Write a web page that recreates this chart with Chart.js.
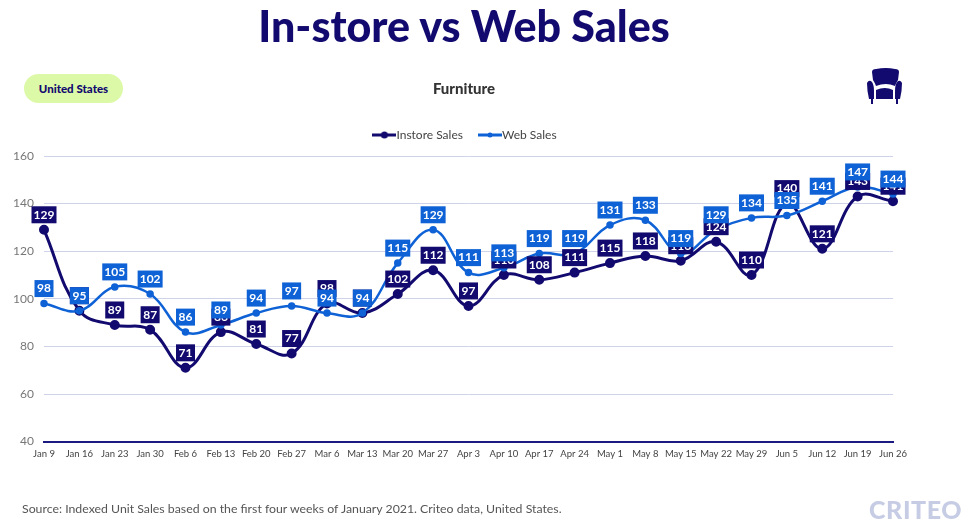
<!DOCTYPE html>
<html>
<head>
<meta charset="utf-8">
<script src="https://cdn.jsdelivr.net/npm/chart.js@4"></script>
<style>
    html, body { margin: 0; padding: 0; background: #fff; }
    body { width: 975px; height: 530px; position: relative; overflow: hidden; font-family: Lato, sans-serif; }
    #chart { position: absolute; left: 0; top: 0; }
    .txt { position: absolute; white-space: nowrap; }
    #title { left: 0; width: 928px; top: 0; text-align: center; font-size: 43px; line-height: 52px; font-weight: 900; color: #120a6e; }
    #pill { left: 24px; top: 74px; width: 99px; height: 29px; line-height: 29px; border-radius: 15px; background: #dcf9a8; text-align: center; font-size: 11.5px; font-weight: 900; color: #120a6e; }
    #sub { left: 0; width: 928px; top: 79px; text-align: center; font-size: 15px; line-height: 18px; font-weight: 900; color: #333; }
    #source { left: 22px; top: 501px; font-size: 12.3px; line-height: 16px; color: #555; }
    #logo { left: 869px; top: 495px; font-size: 25px; line-height: 28px; font-weight: 900; letter-spacing: 0.6px; color: #c6cce4; }
    #chair { position: absolute; left: 866px; top: 67px; }
</style>
</head>
<body>
<canvas id="chart" width="975" height="530"></canvas>
<div class="txt" id="title">In-store vs Web Sales</div>
<div class="txt" id="pill">United States</div>
<div class="txt" id="sub">Furniture</div>
<svg id="chair" width="40" height="38" viewBox="0 0 40 38">
    <path fill="#120a6e" d="M6 5 Q6 2 10 2 Q20 0 29 2 Q33 2 33 5 L32 13 Q30 16 29 19 Q20 15 10 19 Q9 16 7 13 Z"/>
    <path fill="#120a6e" d="M1 16 Q3 12 6 15 Q8 18 8 24 V32 H3 Q1 24 1 16 Z"/>
    <path fill="#120a6e" d="M36 16 Q34 12 31 15 Q29 18 29 24 V32 H34 Q36 24 36 16 Z"/>
    <path fill="#120a6e" d="M10 23 Q19 19 27 23 V32 H10 Z"/>
    <rect x="5" y="32" width="2" height="5" fill="#120a6e"/>
    <rect x="30" y="32" width="2" height="5" fill="#120a6e"/>
</svg>
<div class="txt" id="source">Source: Indexed Unit Sales based on the first four weeks of January 2021. Criteo data, United States.</div>
<div class="txt" id="logo">CRITEO</div>
<script>
const weeks = ['Jan 9', 'Jan 16', 'Jan 23', 'Jan 30', 'Feb 6', 'Feb 13', 'Feb 20', 'Feb 27', 'Mar 6', 'Mar 13', 'Mar 20', 'Mar 27', 'Apr 3', 'Apr 10', 'Apr 17', 'Apr 24', 'May 1', 'May 8', 'May 15', 'May 22', 'May 29', 'Jun 5', 'Jun 12', 'Jun 19', 'Jun 26'];
const instoreSales = [129, 95, 89, 87, 71, 86, 81, 77, 98, 94, 102, 112, 97, 110, 108, 111, 115, 118, 116, 124, 110, 140, 121, 143, 141];
const webSales = [98, 95, 105, 102, 86, 89, 94, 97, 94, 94, 115, 129, 111, 113, 119, 119, 131, 133, 119, 129, 134, 135, 141, 147, 144];
const yTicks = [40, 60, 80, 100, 120, 140, 160];

const navy = '#120a6e';
const blue = '#0f62d6';

// legend swatch: short line with a dot in the middle
function swatch(color, r) {
    const c = document.createElement('canvas');
    c.width = 24;
    c.height = 10;
    const g = c.getContext('2d');
    g.fillStyle = color;
    g.fillRect(0, 3.5, 24, 3);
    g.beginPath();
    g.arc(12, 5, r, 0, Math.PI * 2);
    g.fill();
    return c;
}

// nudge the legend to where the original has it
const legendShift = {
    id: 'legendShift',
    afterLayout(chart) {
        chart.legend.left += 18;
        chart.legend.right += 18;
        chart.legend.top -= 5;
        chart.legend.bottom -= 5;
    }
};

// value boxes above each point, web series painted last
const valueBoxes = {
    id: 'valueBoxes',
    afterDatasetsDraw(chart) {
        const g = chart.ctx;
        g.save();
        g.font = '700 12px Lato';
        g.textAlign = 'center';
        g.textBaseline = 'middle';
        chart.data.datasets.forEach((ds, i) => {
            chart.getDatasetMeta(i).data.forEach((pt, j) => {
                const label = String(ds.data[j]);
                const w = label.length > 2 ? 25 : 19;
                const cy = pt.y - 15;
                g.fillStyle = ds.borderColor;
                g.fillRect(pt.x - w / 2, cy - 8.5, w, 17);
                g.fillStyle = '#fff';
                g.fillText(label, pt.x, cy);
            });
        });
        g.restore();
    }
};

new Chart(document.getElementById('chart'), {
    type: 'line',
    data: {
        labels: weeks,
        datasets: [{
            label: 'Instore Sales',
            data: instoreSales,
            borderColor: navy,
            backgroundColor: navy,
            borderWidth: 3,
            pointRadius: 3.5,
            tension: 0.4,
            order: 2
        }, {
            label: 'Web Sales',
            data: webSales,
            borderColor: blue,
            backgroundColor: blue,
            borderWidth: 2.5,
            pointRadius: 2.5,
            tension: 0.4,
            order: 1
        }]
    },
    plugins: [legendShift, valueBoxes],
    options: {
        responsive: false,
        animation: false,
        layout: { padding: { left: 6, right: 82, top: 113, bottom: 71 } },
        plugins: {
            tooltip: { enabled: false },
            legend: {
                labels: {
                    usePointStyle: true,
                    boxHeight: 10,
                    padding: 21,
                    color: '#444',
                    font: { family: 'Lato', size: 12 },
                    generateLabels(chart) {
                        return chart.data.datasets.map((ds, i) => ({
                            text: ds.label,
                            datasetIndex: i,
                            fontColor: '#444',
                            pointStyle: swatch(ds.borderColor, i === 0 ? 3.5 : 2.5)
                        }));
                    }
                }
            }
        },
        scales: {
            x: {
                offset: false,
                grid: { display: false },
                border: { color: '#1a1a80', width: 2 },
                ticks: { color: '#444', font: { family: 'Lato', size: 9.5 }, maxRotation: 0, autoSkip: false, padding: -1 }
            },
            y: {
                min: 40,
                max: 160,
                afterBuildTicks(axis) {
                    axis.ticks = yTicks.map(v => ({ value: v }));
                },
                afterFit(axis) {
                    axis.width = 38;
                },
                grid: { color: '#cfd3ea', drawTicks: false },
                border: { display: false },
                ticks: { color: '#777', font: { family: 'Lato', size: 12 }, padding: 10 }
            }
        }
    }
});
</script>
</body>
</html>
